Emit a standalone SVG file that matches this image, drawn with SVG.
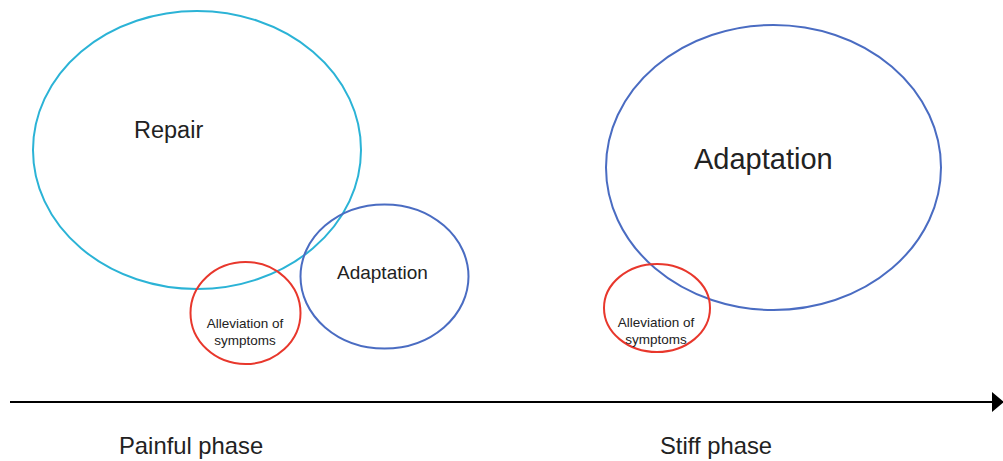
<svg xmlns="http://www.w3.org/2000/svg" width="1003" height="461" viewBox="0 0 1003 461">
<style>
.c{fill:none;stroke-width:2}
.t{font-family:"Liberation Sans",Arial,sans-serif;fill:#222}
.s{font-size:13.5px;text-anchor:middle}
</style>
<defs>
<marker id="ah" markerWidth="12" markerHeight="20" refX="11" refY="10" orient="auto" markerUnits="userSpaceOnUse">
<path d="M0,0 L12,10 L0,20 Z" fill="#000"/>
</marker>
</defs>
<rect width="1003" height="461" fill="#fff"/>
<g id="repair">
<ellipse class="c" cx="197" cy="150" rx="164" ry="139" stroke="#2bb3d6"/>
<text class="t" x="134" y="138" font-size="23.5">Repair</text>
</g>
<g id="adaptation-small">
<ellipse class="c" cx="384.5" cy="276.5" rx="84" ry="72" stroke="#4a6cc2"/>
<text class="t" x="337" y="279" font-size="19">Adaptation</text>
</g>
<g id="alleviation-left">
<ellipse class="c" cx="245.5" cy="313" rx="55" ry="51" stroke="#e8372c"/>
<text class="t s" x="245" y="328">Alleviation of</text>
<text class="t s" x="245" y="345">symptoms</text>
</g>
<g id="adaptation-big">
<ellipse class="c" cx="773.5" cy="167.5" rx="167.5" ry="142.5" stroke="#4a6cc2"/>
<text class="t" x="694" y="169" font-size="29">Adaptation</text>
</g>
<g id="alleviation-right">
<ellipse class="c" cx="657" cy="308" rx="53" ry="44" stroke="#e8372c"/>
<text class="t s" x="656" y="327">Alleviation of</text>
<text class="t s" x="656" y="344">symptoms</text>
</g>
<g id="connectors">
<line x1="10" y1="402" x2="1003" y2="402" stroke="#000" stroke-width="2" marker-end="url(#ah)"/>
</g>
<g id="labels">
<text class="t" x="119" y="454" font-size="23.8">Painful phase</text>
<text class="t" x="660" y="454" font-size="23.8">Stiff phase</text>
</g>
</svg>
